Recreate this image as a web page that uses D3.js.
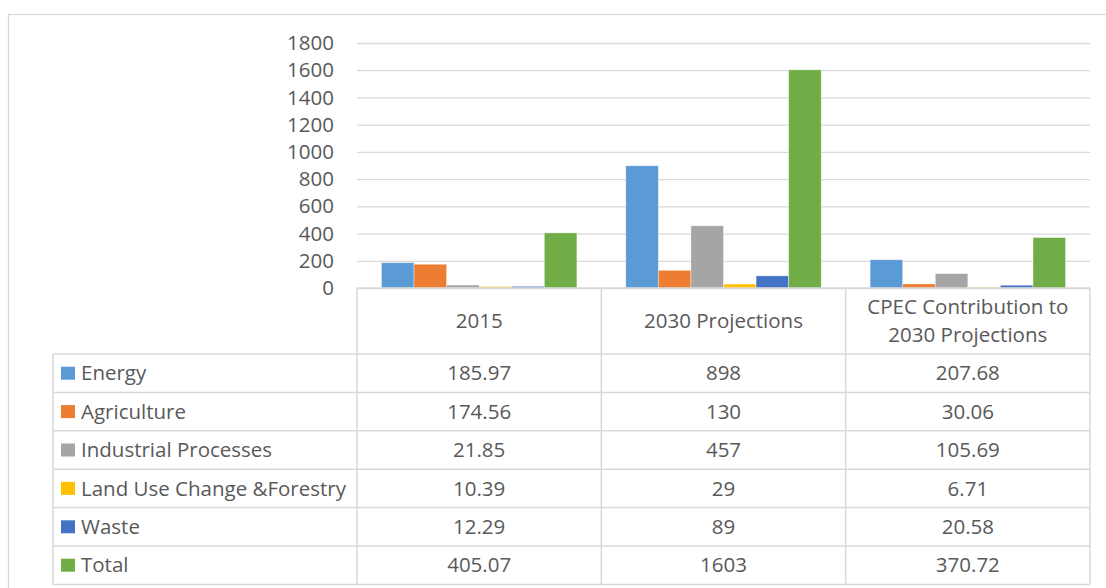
<!DOCTYPE html>
<html>
<head>
<meta charset="utf-8">
<script src="https://cdn.jsdelivr.net/npm/d3@7"></script>
<style>
  html, body { margin: 0; padding: 0; background: #fff; }
  svg text { font-family: "Open Sans", "Noto Sans", sans-serif; fill: #595959; }
</style>
</head>
<body>
<svg id="chart" width="1106" height="588"></svg>
<script>
// data
var categories = ["2015", "2030 Projections", "CPEC Contribution to 2030 Projections"];
var headerLines = [["2015"], ["2030 Projections"], ["CPEC Contribution to", "2030 Projections"]];
var seriesNames = ["Energy", "Agriculture", "Industrial Processes", "Land Use Change &Forestry", "Waste", "Total"];
var energy = [185.97, 898, 207.68];
var agriculture = [174.56, 130, 30.06];
var industrial = [21.85, 457, 105.69];
var landUse = [10.39, 29, 6.71];
var waste = [12.29, 89, 20.58];
var total = [405.07, 1603, 370.72];
var yTicks = [0, 200, 400, 600, 800, 1000, 1200, 1400, 1600, 1800];
var colours = ["#5B9BD5", "#ED7D31", "#A5A5A5", "#FFC000", "#4472C4", "#70AD47"];

var seriesValues = [energy, agriculture, industrial, landUse, waste, total];

var svg = d3.select("#chart");
var gridColour = "#d9d9d9";
var fontSize = "20.5px";

// plot area (don't use "top" as a global name, it's window.top)
var plotLeft = 357, plotRight = 1090, plotTop = 43, plotBottom = 288;
var tableLeft = 53, headerBottom = 354, rowH = 38.4;

// chart area border
svg.append("rect")
  .attr("x", 8.5).attr("y", 14.5)
  .attr("width", 1110).attr("height", 600)
  .attr("fill", "none").attr("stroke", gridColour).attr("stroke-width", 1.3);

var x = d3.scaleBand().domain(categories).range([plotLeft, plotRight]).padding(0);
var xInner = d3.scaleBand().domain(seriesNames).range([0, x.bandwidth()])
  .paddingInner(0).paddingOuter(0.75);
var y = d3.scaleLinear().domain([0, 1800]).range([plotBottom, plotTop]);

// gridlines
var grid = svg.append("g")
  .attr("transform", "translate(" + plotLeft + ",0)")
  .call(d3.axisRight(y).tickValues(yTicks).tickSize(plotRight - plotLeft).tickFormat(""));
grid.select(".domain").remove();
grid.selectAll("line").attr("stroke", gridColour).attr("stroke-width", 1.3);

// y axis labels
var yAxis = svg.append("g")
  .attr("transform", "translate(334,0)")
  .call(d3.axisLeft(y).tickValues(yTicks).tickSize(0).tickPadding(0).tickFormat(d3.format("d")));
yAxis.select(".domain").remove();
yAxis.selectAll("text")
  .style("font-size", fontSize)
  .attr("fill", "#595959");

// bars
var rows = [];
seriesNames.forEach(function(s, i) {
  categories.forEach(function(c, j) {
    rows.push({series: s, cat: c, value: seriesValues[i][j], colour: colours[i]});
  });
});

svg.append("g").selectAll("rect")
  .data(rows)
  .enter().append("rect")
  .attr("x", function(d) { return x(d.cat) + xInner(d.series); })
  .attr("y", function(d) { return y(d.value); })
  .attr("width", xInner.bandwidth())
  .attr("height", function(d) { return plotBottom - y(d.value); })
  .attr("fill", function(d) { return d.colour; })
  .attr("stroke", "#fff").attr("stroke-opacity", 0.5).attr("stroke-width", 0.75);

// data table
var tableBottom = headerBottom + rowH * seriesNames.length;
var lines = svg.append("g").attr("stroke", gridColour).attr("stroke-width", 1.5);

// horizontal lines
lines.append("line").attr("x1", plotLeft).attr("x2", plotRight).attr("y1", plotBottom).attr("y2", plotBottom);
d3.range(seriesNames.length + 1).forEach(function(i) {
  var yy = headerBottom + i * rowH;
  lines.append("line").attr("x1", tableLeft).attr("x2", plotRight).attr("y1", yy).attr("y2", yy);
});
// vertical lines
lines.append("line").attr("x1", tableLeft).attr("x2", tableLeft).attr("y1", headerBottom).attr("y2", tableBottom);
categories.forEach(function(c) {
  lines.append("line").attr("x1", x(c)).attr("x2", x(c)).attr("y1", plotBottom).attr("y2", tableBottom);
});
lines.append("line").attr("x1", plotRight).attr("x2", plotRight).attr("y1", plotBottom).attr("y2", tableBottom);

// header labels
categories.forEach(function(c, j) {
  var ls = headerLines[j];
  var mid = (plotBottom + headerBottom) / 2;
  ls.forEach(function(t, k) {
    svg.append("text")
      .attr("x", x(c) + x.bandwidth() / 2)
      .attr("y", mid + (k - (ls.length - 1) / 2) * 28.5)
      .attr("dy", "0.35em")
      .attr("text-anchor", "middle")
      .style("font-size", fontSize)
      .text(t);
  });
});

// legend + values
seriesNames.forEach(function(s, i) {
  var cy = headerBottom + i * rowH + rowH / 2;
  svg.append("rect")
    .attr("x", 61).attr("y", cy - 6.5)
    .attr("width", 14).attr("height", 13)
    .attr("fill", colours[i]);
  svg.append("text")
    .attr("x", 81).attr("y", cy).attr("dy", "0.35em")
    .style("font-size", fontSize)
    .text(s);
  categories.forEach(function(c, j) {
    svg.append("text")
      .attr("x", x(c) + x.bandwidth() / 2)
      .attr("y", cy).attr("dy", "0.35em")
      .attr("text-anchor", "middle")
      .style("font-size", fontSize)
      .text(String(seriesValues[i][j]));
  });
});
</script>
</body>
</html>
